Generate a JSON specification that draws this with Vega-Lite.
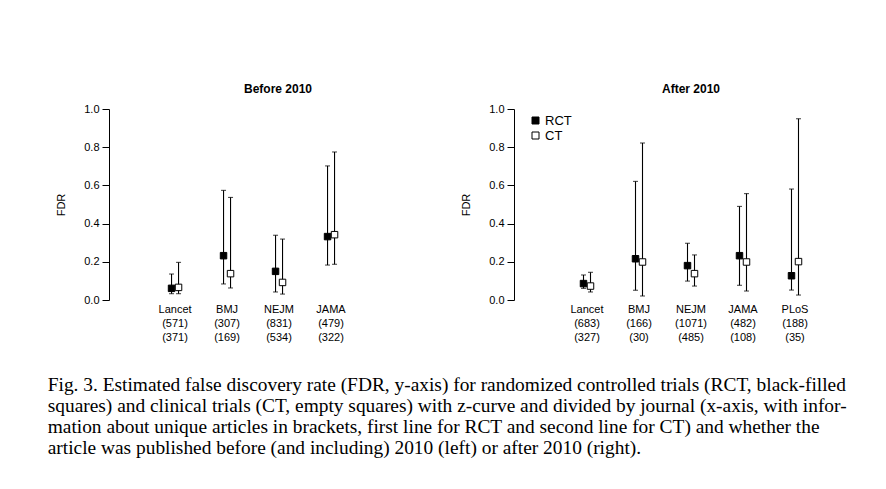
{
  "$schema": "https://vega.github.io/schema/vega-lite/v6.json",
  "padding": {"left": 47, "top": 83, "right": 5, "bottom": 5},
  "config": {
    "view": {"stroke": null},
    "font": "Liberation Sans",
    "title": {"font": "Liberation Sans", "fontSize": 12, "fontWeight": "bold", "color": "black", "offset": 7},
    "axis": {"labelFont": "Liberation Sans", "titleFont": "Liberation Sans", "labelColor": "black", "titleColor": "black", "domainColor": "black", "tickColor": "black", "grid": false},
    "axisY": {"values": [0, 0.2, 0.4, 0.6, 0.8, 1.0], "format": ".1f", "tickSize": 7, "labelPadding": 3, "labelFontSize": 11, "labelOverlap": false, "titleFontSize": 11, "titleFontWeight": "normal", "titlePadding": 17}
  },
  "title": {
    "text": [
      "Fig. 3. Estimated false discovery rate (FDR, y-axis) for randomized controlled trials (RCT, black-filled",
      "squares) and clinical trials (CT, empty squares) with z-curve and divided by journal (x-axis, with infor-",
      "mation about unique articles in brackets, first line for RCT and second line for CT) and whether the",
      "article was published before (and including) 2010 (left) or after 2010 (right)."
    ],
    "orient": "bottom",
    "anchor": "start",
    "frame": "bounds",
    "font": "Liberation Serif",
    "fontSize": 19.4,
    "fontWeight": "normal",
    "lineHeight": 21,
    "offset": 34,
    "dx": -8,
    "color": "black"
  },
  "data": {"values": [
    {"period": "Before 2010", "xlabel": "Lancet|(571)|(371)", "type": "RCT", "fdr": 0.061, "lo": 0.033, "hi": 0.136},
    {"period": "Before 2010", "xlabel": "Lancet|(571)|(371)", "type": "CT", "fdr": 0.066, "lo": 0.033, "hi": 0.197},
    {"period": "Before 2010", "xlabel": "BMJ|(307)|(169)", "type": "RCT", "fdr": 0.232, "lo": 0.084, "hi": 0.574},
    {"period": "Before 2010", "xlabel": "BMJ|(307)|(169)", "type": "CT", "fdr": 0.138, "lo": 0.063, "hi": 0.537},
    {"period": "Before 2010", "xlabel": "NEJM|(831)|(534)", "type": "RCT", "fdr": 0.150, "lo": 0.042, "hi": 0.339},
    {"period": "Before 2010", "xlabel": "NEJM|(831)|(534)", "type": "CT", "fdr": 0.092, "lo": 0.031, "hi": 0.319},
    {"period": "Before 2010", "xlabel": "JAMA|(479)|(322)", "type": "RCT", "fdr": 0.332, "lo": 0.183, "hi": 0.702},
    {"period": "Before 2010", "xlabel": "JAMA|(479)|(322)", "type": "CT", "fdr": 0.342, "lo": 0.187, "hi": 0.775},
    {"period": "After 2010", "xlabel": "Lancet|(683)|(327)", "type": "RCT", "fdr": 0.086, "lo": 0.061, "hi": 0.131},
    {"period": "After 2010", "xlabel": "Lancet|(683)|(327)", "type": "CT", "fdr": 0.073, "lo": 0.042, "hi": 0.145},
    {"period": "After 2010", "xlabel": "BMJ|(166)|(30)", "type": "RCT", "fdr": 0.216, "lo": 0.051, "hi": 0.621},
    {"period": "After 2010", "xlabel": "BMJ|(166)|(30)", "type": "CT", "fdr": 0.199, "lo": 0.021, "hi": 0.822},
    {"period": "After 2010", "xlabel": "NEJM|(1071)|(485)", "type": "RCT", "fdr": 0.180, "lo": 0.099, "hi": 0.297},
    {"period": "After 2010", "xlabel": "NEJM|(1071)|(485)", "type": "CT", "fdr": 0.138, "lo": 0.073, "hi": 0.236},
    {"period": "After 2010", "xlabel": "JAMA|(482)|(108)", "type": "RCT", "fdr": 0.232, "lo": 0.077, "hi": 0.490},
    {"period": "After 2010", "xlabel": "JAMA|(482)|(108)", "type": "CT", "fdr": 0.199, "lo": 0.047, "hi": 0.557},
    {"period": "After 2010", "xlabel": "PLoS|(188)|(35)", "type": "RCT", "fdr": 0.127, "lo": 0.052, "hi": 0.581},
    {"period": "After 2010", "xlabel": "PLoS|(188)|(35)", "type": "CT", "fdr": 0.201, "lo": 0.026, "hi": 0.949}
  ]},
  "spacing": 39,
  "resolve": {"legend": {"fill": "independent"}, "scale": {"x": "independent"}},
  "hconcat": [
    {
      "title": {"text": "Before 2010", "dx": 13},
      "width": 312,
      "height": 191,
      "transform": [{"filter": "datum.period == 'Before 2010'"}],
      "encoding": {
        "x": {"field": "xlabel", "type": "nominal", "sort": null, "title": null,
              "scale": {"type": "band", "paddingInner": 0, "paddingOuter": 1, "align": 0.385},
              "axis": {"domain": false, "ticks": false, "labelAngle": 0, "labelPadding": 3, "labelFontSize": 11, "labelLineHeight": 14, "labelBaseline": "top", "labelExpr": "split(datum.label, '|')"}}
      },
      "layer": [
        {"transform": [{"filter": "datum.type == 'RCT'"}], "mark": {"type": "rule", "xOffset": -3.5, "color": "black", "strokeWidth": 1.1},
         "encoding": {"y": {"field": "lo", "type": "quantitative", "scale": {"domain": [0, 1], "nice": false}, "title": "FDR"}, "y2": {"field": "hi"}}},
        {"transform": [{"filter": "datum.type == 'CT'"}], "mark": {"type": "rule", "xOffset": 3.5, "color": "black", "strokeWidth": 1.1},
         "encoding": {"y": {"field": "lo", "type": "quantitative", "title": "FDR"}, "y2": {"field": "hi"}}},
        {"transform": [{"filter": "datum.type == 'RCT'"}], "mark": {"type": "tick", "xOffset": -3.5, "color": "black", "size": 5, "thickness": 1.1},
         "encoding": {"y": {"field": "lo", "type": "quantitative", "title": "FDR"}}},
        {"transform": [{"filter": "datum.type == 'RCT'"}], "mark": {"type": "tick", "xOffset": -3.5, "color": "black", "size": 5, "thickness": 1.1},
         "encoding": {"y": {"field": "hi", "type": "quantitative", "title": "FDR"}}},
        {"transform": [{"filter": "datum.type == 'CT'"}], "mark": {"type": "tick", "xOffset": 3.5, "color": "black", "size": 5, "thickness": 1.1},
         "encoding": {"y": {"field": "lo", "type": "quantitative", "title": "FDR"}}},
        {"transform": [{"filter": "datum.type == 'CT'"}], "mark": {"type": "tick", "xOffset": 3.5, "color": "black", "size": 5, "thickness": 1.1},
         "encoding": {"y": {"field": "hi", "type": "quantitative", "title": "FDR"}}},
        {"transform": [{"filter": "datum.type == 'RCT'"}], "mark": {"type": "point", "shape": "square", "filled": true, "size": 42, "xOffset": -3.5, "stroke": "black", "strokeWidth": 1, "opacity": 1},
         "encoding": {"y": {"field": "fdr", "type": "quantitative", "title": "FDR"}, "fill": {"field": "type", "type": "nominal", "scale": {"domain": ["RCT", "CT"], "range": ["black", "white"]}, "legend": null}}},
        {"transform": [{"filter": "datum.type == 'CT'"}], "mark": {"type": "point", "shape": "square", "filled": true, "size": 42, "xOffset": 3.5, "stroke": "black", "strokeWidth": 1, "opacity": 1},
         "encoding": {"y": {"field": "fdr", "type": "quantitative", "title": "FDR"}, "fill": {"field": "type", "type": "nominal", "scale": {"domain": ["RCT", "CT"], "range": ["black", "white"]}, "legend": null}}}
      ]
    },
    {
      "title": "After 2010",
      "width": 354,
      "height": 191,
      "transform": [{"filter": "datum.period == 'After 2010'"}],
      "encoding": {
        "x": {"field": "xlabel", "type": "nominal", "sort": null, "title": null,
              "scale": {"type": "band", "paddingInner": 0, "paddingOuter": 0.904, "align": 0.5},
              "axis": {"domain": false, "ticks": false, "labelAngle": 0, "labelPadding": 3, "labelFontSize": 11, "labelLineHeight": 14, "labelBaseline": "top", "labelExpr": "split(datum.label, '|')"}}
      },
      "layer": [
        {"transform": [{"filter": "datum.type == 'RCT'"}], "mark": {"type": "rule", "xOffset": -3.5, "color": "black", "strokeWidth": 1.1},
         "encoding": {"y": {"field": "lo", "type": "quantitative", "scale": {"domain": [0, 1], "nice": false}, "title": "FDR"}, "y2": {"field": "hi"}}},
        {"transform": [{"filter": "datum.type == 'CT'"}], "mark": {"type": "rule", "xOffset": 3.5, "color": "black", "strokeWidth": 1.1},
         "encoding": {"y": {"field": "lo", "type": "quantitative", "title": "FDR"}, "y2": {"field": "hi"}}},
        {"transform": [{"filter": "datum.type == 'RCT'"}], "mark": {"type": "tick", "xOffset": -3.5, "color": "black", "size": 5, "thickness": 1.1},
         "encoding": {"y": {"field": "lo", "type": "quantitative", "title": "FDR"}}},
        {"transform": [{"filter": "datum.type == 'RCT'"}], "mark": {"type": "tick", "xOffset": -3.5, "color": "black", "size": 5, "thickness": 1.1},
         "encoding": {"y": {"field": "hi", "type": "quantitative", "title": "FDR"}}},
        {"transform": [{"filter": "datum.type == 'CT'"}], "mark": {"type": "tick", "xOffset": 3.5, "color": "black", "size": 5, "thickness": 1.1},
         "encoding": {"y": {"field": "lo", "type": "quantitative", "title": "FDR"}}},
        {"transform": [{"filter": "datum.type == 'CT'"}], "mark": {"type": "tick", "xOffset": 3.5, "color": "black", "size": 5, "thickness": 1.1},
         "encoding": {"y": {"field": "hi", "type": "quantitative", "title": "FDR"}}},
        {"transform": [{"filter": "datum.type == 'RCT'"}], "mark": {"type": "point", "shape": "square", "filled": true, "size": 42, "xOffset": -3.5, "stroke": "black", "strokeWidth": 1, "opacity": 1},
         "encoding": {"y": {"field": "fdr", "type": "quantitative", "title": "FDR"}, "fill": {"field": "type", "type": "nominal", "scale": {"domain": ["RCT", "CT"], "range": ["black", "white"]},
           "legend": {"title": null, "orient": "none", "legendX": 15, "legendY": 5, "symbolType": "square", "symbolSize": 49, "symbolStrokeColor": "black", "symbolStrokeWidth": 1, "labelFont": "Liberation Sans", "labelFontSize": 13, "labelColor": "black", "labelOffset": 3, "rowPadding": 1}}}},
        {"transform": [{"filter": "datum.type == 'CT'"}], "mark": {"type": "point", "shape": "square", "filled": true, "size": 42, "xOffset": 3.5, "stroke": "black", "strokeWidth": 1, "opacity": 1},
         "encoding": {"y": {"field": "fdr", "type": "quantitative", "title": "FDR"}, "fill": {"field": "type", "type": "nominal", "scale": {"domain": ["RCT", "CT"], "range": ["black", "white"]}}}}
      ]
    }
  ]
}
